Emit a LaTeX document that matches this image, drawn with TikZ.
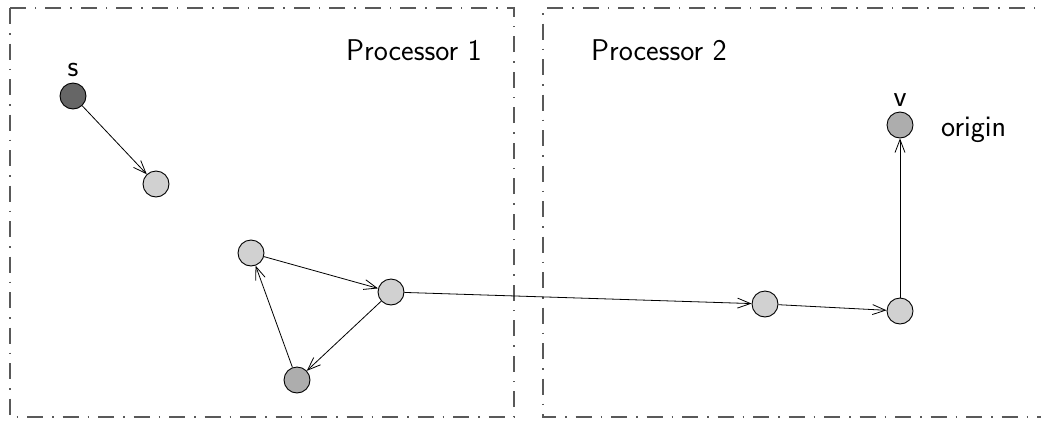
\documentclass[tikz,border=0pt]{standalone}
\usetikzlibrary{arrows.meta}
\begin{document}
\begin{tikzpicture}[x=1pt,y=-1pt,
  vert/.style={circle,draw=black,line width=0.9pt,minimum size=26pt,inner sep=0pt},
  light/.style={vert,fill=black!18},
  mid/.style={vert,fill=black!32},
  dark/.style={vert,fill=black!60},
  edge/.style={line width=0.8pt,-{Straight Barb[length=13pt,width=10pt,line width=0.8pt]}},
  frame/.style={draw=black!65,line width=1.2pt,dash pattern=on 16pt off 9pt on 1.5pt off 9pt},
  lbl/.style={font=\sffamily\fontsize{30}{36}\selectfont,inner sep=0pt}]
\useasboundingbox (0,0) rectangle (1041,421);
% processor regions
\draw[frame] (10,8) rectangle (514,417);
\draw[frame] (1060,8) -- (543,8) -- (543,417) -- (1060,417);
\node[lbl,anchor=base] (p1) at (414,60) {Processor 1};
\node[lbl,anchor=base] (p2) at (659,60) {Processor 2};
% vertices
\node[dark]  (s) at (73,96) {};
\node[light] (n) at (156,184) {};
\node[light] (a) at (251,253) {};
\node[light] (b) at (391,292) {};
\node[mid]   (c) at (297,380) {};
\node[light] (d) at (765,304) {};
\node[light] (e) at (900,311) {};
\node[mid]   (v) at (900,125) {};
\node[lbl,anchor=base] (ls) at (73,76) {s};
\node[lbl,anchor=base] (lv) at (900,106) {v};
\node[lbl,anchor=base west] (lo) at (941,136) {origin};
% edges
\draw[edge] (s) -- (n);
\draw[edge] (a) -- (b);
\draw[edge] (b) -- (c);
\draw[edge] (c) -- (a);
\draw[edge] (b) -- (d);
\draw[edge] (d) -- (e);
\draw[edge] (e) -- (v);
\end{tikzpicture}
\end{document}
